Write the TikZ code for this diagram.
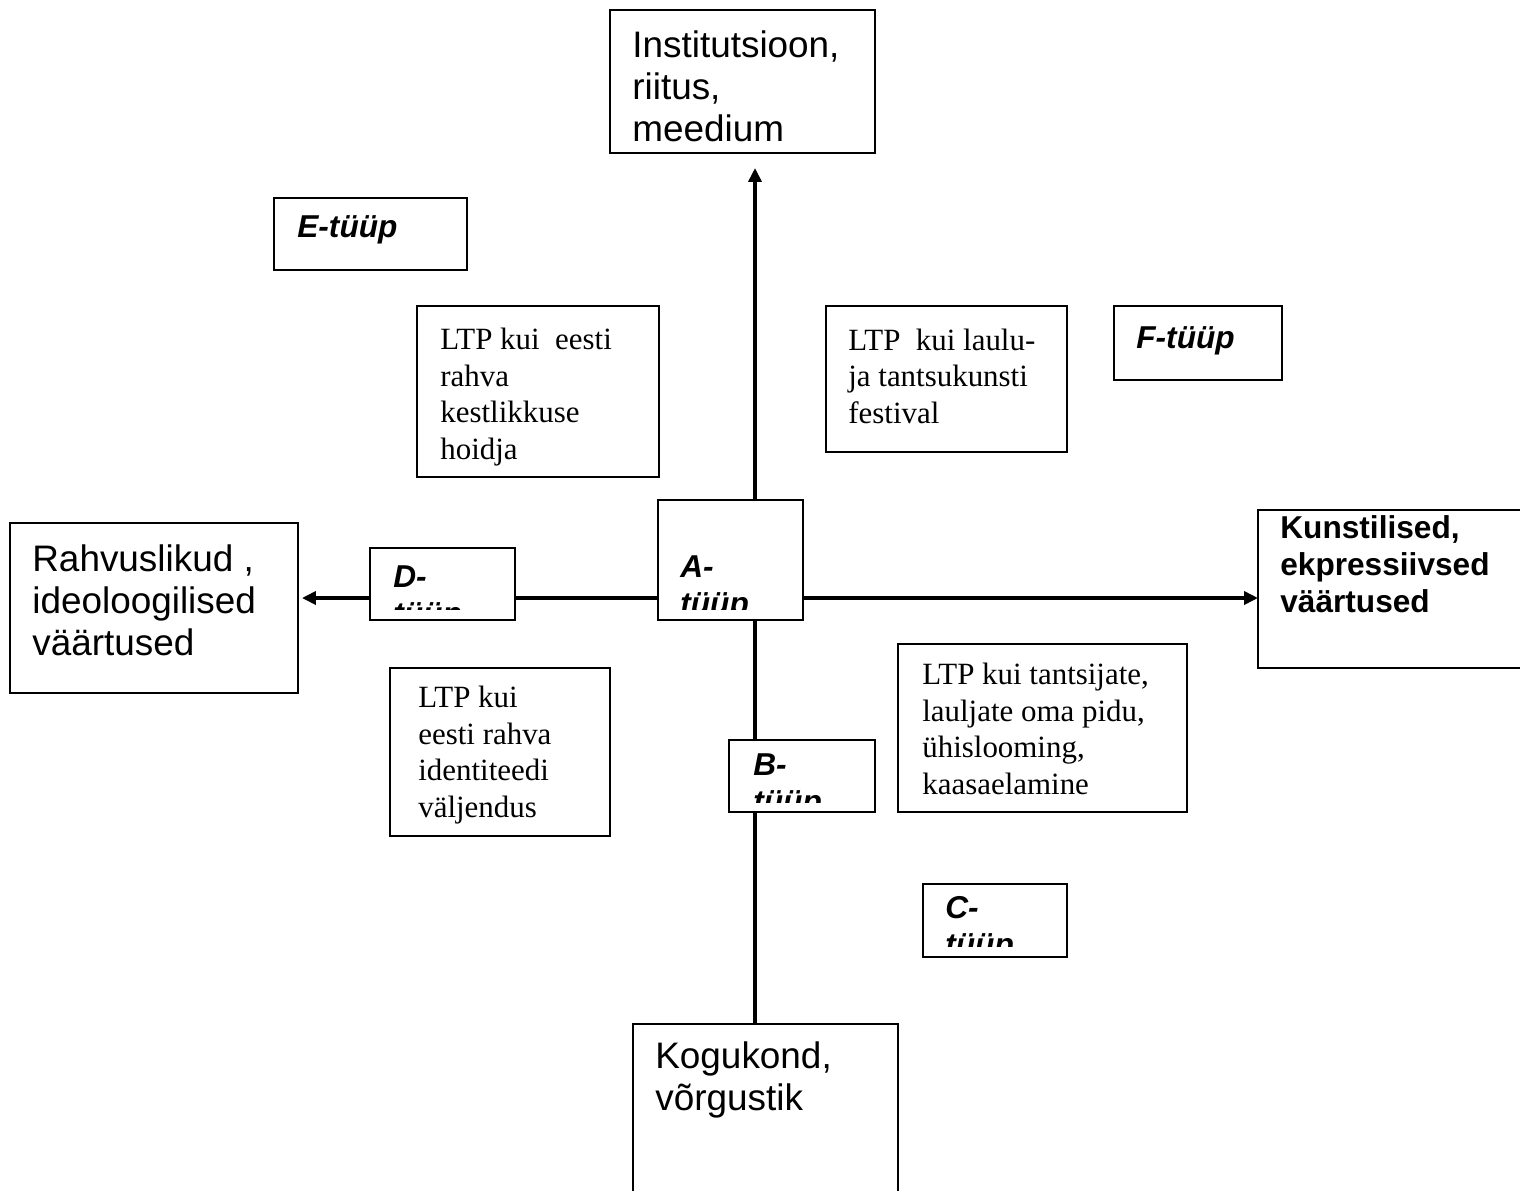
\documentclass[tikz,border=0pt]{standalone}
\usepackage{fontspec}
\setmainfont{Liberation Serif}
\newfontfamily\arialfont{Liberation Sans}
\usepackage{tikz}
\usetikzlibrary{arrows.meta, calc}
\pgfdeclarelayer{background}
\pgfsetlayers{background,main}
\tikzset{
    box/.style={rectangle, draw=black, line width=1.6pt, fill=white, anchor=north west, inner sep=0pt, outer sep=0pt},
    bigtext/.style={anchor=base west, align=left, inner sep=0pt, font=\arialfont\fontsize{21}{23.9}\selectfont},
    valtext/.style={anchor=base west, align=left, inner sep=0pt, font=\arialfont\bfseries\fontsize{18}{21}\selectfont},
    typetext/.style={anchor=base west, align=left, inner sep=0pt, font=\arialfont\bfseries\itshape\fontsize{18}{21}\selectfont},
    ltptext/.style={anchor=base west, align=left, inner sep=0pt, font=\fontsize{17.6}{20.7}\selectfont},
    axis/.style={line width=2pt, -{Triangle[length=0.28cm, width=0.26cm]}}
}

\begin{document}
\begin{tikzpicture}[x=0.02cm, y=-0.02cm]
    \useasboundingbox (0,0) rectangle (1520,1190);

    % Poles of the axes (text nodes sit on the baseline of their last line)
    \node[box, minimum width=5.3cm, minimum height=2.86cm] (inst) at (610,10) {};
    \node[bigtext] (inst-t) at (632,141) {Institutsioon,\\riitus,\\meedium};

    \node[box, minimum width=5.76cm, minimum height=3.4cm] (rahv) at (10,523) {};
    \node[bigtext] (rahv-t) at (32,655) {Rahvuslikud ,\\ideoloogilised\\väärtused};

    \node[box, minimum width=5.5cm, minimum height=3.16cm] (kunst) at (1258,510) {};
    \node[valtext] (kunst-t) at (1280,612) {Kunstilised,\\ekpressiivsed\\väärtused};

    \node[box, minimum width=5.3cm, minimum height=3.6cm] (kogu) at (633,1024) {};
    \node[bigtext] (kogu-t) at (655,1110) {Kogukond,\\võrgustik};

    % LTP boxes
    \node[box, minimum width=4.84cm, minimum height=3.42cm] (kestl) at (417,306) {};
    \node[ltptext] (kestl-t) at (440,459) {LTP kui\ \ eesti\\rahva\\kestlikkuse\\hoidja};

    \node[box, minimum width=4.82cm, minimum height=2.92cm] (laulu) at (826,306) {};
    \node[ltptext] (laulu-t) at (848,423) {LTP\ \ kui laulu-\\ja tantsukunsti\\festival};

    \node[box, minimum width=5.78cm, minimum height=3.36cm] (tants) at (898,644) {};
    \node[ltptext] (tants-t) at (922,794) {LTP kui tantsijate,\\lauljate oma pidu,\\ühislooming,\\kaasaelamine};

    \node[box, minimum width=4.4cm, minimum height=3.36cm] (ident) at (390,668) {};
    \node[ltptext] (ident-t) at (418,817) {LTP kui\\eesti rahva\\identiteedi\\väljendus};

    % Types
    \node[box, minimum width=3.86cm, minimum height=1.44cm] (etype) at (274,198) {};
    \node[typetext] (etype-t) at (297,237) {E-tüüp};

    \node[box, minimum width=3.36cm, minimum height=1.48cm] (ftype) at (1114,306) {};
    \node[typetext] (ftype-t) at (1136,348) {F-tüüp};

    \node[box, minimum width=2.9cm, minimum height=1.44cm] (dtype) at (370,548) {};
    \begin{scope}
        \clip (dtype.north west) rectangle ([yshift=0.2cm]dtype.south east);
        \node[typetext] (dtype-t) at (393,624) {D-\\tüüp};
    \end{scope}

    \node[box, minimum width=2.9cm, minimum height=2.4cm] (atype) at (658,500) {};
    \begin{scope}
        \clip (atype.north west) rectangle ([yshift=0.2cm]atype.south east);
        \node[typetext] (atype-t) at (680,614) {A-\\tüüp};
    \end{scope}

    \node[box, minimum width=2.92cm, minimum height=1.44cm] (btype) at (729,740) {};
    \begin{scope}
        \clip (btype.north west) rectangle ([yshift=0.2cm]btype.south east);
        \node[typetext] (btype-t) at (753,812) {B-\\tüüp};
    \end{scope}

    \node[box, minimum width=2.88cm, minimum height=1.46cm] (ctype) at (923,884) {};
    \begin{scope}
        \clip (ctype.north west) rectangle ([yshift=0.22cm]ctype.south east);
        \node[typetext] (ctype-t) at (945,955) {C-\\tüüp};
    \end{scope}

    % Axes, behind the boxes
    \coordinate (ctr) at (755,598);
    \begin{pgfonlayer}{background}
        \draw[axis, shorten >=0.08cm] (ctr) -- (ctr -| rahv.east);
        \draw[axis] (ctr) -- (ctr -| kunst.west);
        \draw[axis, shorten >=0.3cm] (ctr) -- (inst.south -| ctr);
        \draw[line width=2pt] (ctr) -- (ctr |- kogu.north);
    \end{pgfonlayer}
\end{tikzpicture}
\end{document}
